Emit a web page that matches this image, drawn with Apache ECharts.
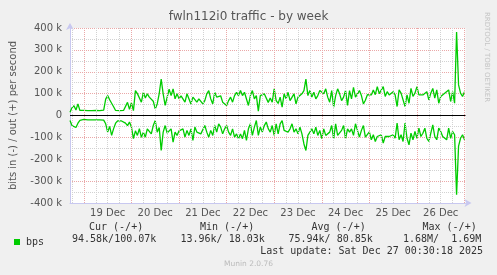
<!DOCTYPE html>
<html>
<head>
<meta charset="utf-8">
<script src="https://cdn.jsdelivr.net/npm/echarts@6/dist/echarts.min.js"></script>
<style>
html,body{margin:0;padding:0;background:#f0f0f0;}
#c{width:497px;height:275px;}
</style>
</head>
<body>
<div id="c"></div>
<script>
// hours relative to 19 Dec 00:00, one sample per hour
const startHour = -7;
// out (+) traffic, kbit/s
const outK = [
 15,35,45,25,53,23,22,23,22,22,
 23,22,22,23,22,22,23,25,75,91,
 72,80,40,23,22,22,22,23,22,60,
 28,58,22,114,100,91,61,106,80,99,
 84,91,65,30,53,100,167,99,46,53,
 120,91,122,76,99,76,90,84,61,99,
 106,53,84,91,61,76,84,53,68,99,
 114,76,53,106,84,76,90,61,68,46,
 68,84,61,91,106,91,114,91,106,99,
 46,91,114,76,91,20,91,84,99,100,
 60,80,61,122,68,55,84,38,99,76,
 106,68,61,99,53,84,76,99,114,166,
 91,114,84,106,76,91,114,122,99,122,
 84,61,114,38,91,122,99,68,84,114,
 46,114,76,129,84,99,114,91,53,70,
 95,87,94,117,95,132,100,102,132,87,
 109,94,102,109,94,41,117,102,109,41,
 94,56,124,87,102,132,94,102,94,87,
 109,71,102,124,79,117,56,87,94,102,
 94,117,64,109,56,382,140,102,87,109
];
// in (-) traffic, kbit/s (drawn below zero)
const inK = [
 23,46,50,55,35,22,20,18,18,20,
 20,20,20,20,20,20,20,21,38,76,
 50,91,60,35,25,30,25,22,35,46,
 30,53,106,70,91,60,100,76,99,61,
 55,84,46,23,76,55,160,76,46,80,
 84,61,122,76,91,70,76,61,99,68,
 91,61,114,53,76,68,84,91,46,76,
 99,68,91,46,76,38,53,84,61,46,
 76,91,61,99,84,106,84,106,68,114,
 61,38,91,53,23,91,53,76,46,30,
 60,76,46,91,38,84,38,23,68,61,
 76,61,38,76,61,84,53,84,130,160,
 91,84,61,84,53,91,68,106,61,91,
 99,76,46,106,38,91,99,68,46,106,
 61,76,61,91,38,68,99,68,46,99,
 90,75,111,88,119,96,104,88,126,96,
 104,96,104,88,104,35,111,88,119,35,
 104,134,81,111,73,104,58,96,81,58,
 104,119,81,43,96,111,58,73,96,88,
 111,58,104,73,88,362,140,104,88,111
];
const dayLabels = ['19 Dec','20 Dec','21 Dec','22 Dec','23 Dec','24 Dec','25 Dec','26 Dec'];
const statHeaders = ['Cur (-/+)','Min (-/+)','Avg (-/+)','Max (-/+)'];
const statValues = ['94.58k/100.07k','13.96k/ 18.03k','75.94k/ 80.85k','1.68M/  1.69M'];
const seriesName = 'bps';
const titleText = 'fwln112i0 traffic - by week';
const yAxisName = 'bits in (-) / out (+) per second';
const lastUpdate = 'Last update: Sat Dec 27 00:30:18 2025';
const footer = 'Munin 2.0.76';
const sideText = 'RRDTOOL / TOBI OETIKER';

const hours = outK.map((_, i) => startHour + i);
const outData = hours.map((h, i) => [h, outK[i] * 1000]);
const inData = hours.map((h, i) => [h, -inK[i] * 1000]);
const labelHours = dayLabels.map((_, i) => 12 + 24 * i);

const RED = '#eaa8a8', GRAY = '#d2d2d2', AXIS = '#c8c8f0';
const vLines = [];
for (let h = -6; h <= 192; h += 6) {
  vLines.push({xAxis: h, lineStyle: {color: h % 24 === 0 ? RED : GRAY, type: [1, 1], width: 1}});
}
vLines.push({yAxis: 0, lineStyle: {color: '#000', type: 'solid', width: 1}});

const FONT = 'DejaVu Sans';
const MONO = 'DejaVu Sans Mono';
const graphics = [];
const headerX = [89, 200, 311.5, 422.5];
const valueX = [72, 180.5, 288.5, 403];
statHeaders.forEach((t, i) => graphics.push({type:'text', left: headerX[i], top: 222, style:{text:t, font:'10px ' + MONO, fill:'#333'}}));
statValues.forEach((t, i) => graphics.push({type:'text', left: valueX[i], top: 234.5, style:{text:t, font:'10px ' + MONO, fill:'#333'}}));
graphics.push({type:'text', right: 14, top: 246, style:{text:lastUpdate, font:'10px ' + MONO, fill:'#333'}});
graphics.push({type:'text', left: 'center', top: 260, style:{text:footer, font:'7.5px ' + FONT, fill:'#bbb'}});
graphics.push({type:'text', x: 487, y: 57, rotation: -Math.PI/2, style:{text:sideText, font:'7px ' + FONT, fill:'#c4c4c4', align:'center', verticalAlign:'middle'}});

const chart = echarts.init(document.getElementById('c'), null, {renderer:'canvas'});
chart.setOption({
  animation: false,
  backgroundColor: '#f0f0f0',
  textStyle: {fontFamily: FONT},
  title: {text: titleText, left: 'center', top: 11, padding: 0,
    textStyle: {fontFamily: FONT, fontSize: 12, fontWeight: 'normal', color: '#555'}},
  legend: {data: [{name: seriesName, icon: 'rect'}], left: 14, top: 237, itemWidth: 6, itemHeight: 6,
    padding: 0, itemGap: 5,
    textStyle: {fontFamily: MONO, fontSize: 10, color: '#333', padding: [0,0,0,1]}},
  grid: {left: 66.5, right: 31.5, top: 28, bottom: 72, show: true, backgroundColor: '#fff', borderWidth: 0},
  xAxis: {
    type: 'value', min: -7, max: 192.5,
    axisLine: {show: true, onZero: false, lineStyle: {color: AXIS}, symbol: ['none','arrow'], symbolSize: [6, 7], symbolOffset: [0, 6]},
    axisTick: {show: false},
    splitLine: {show: false},
    axisLabel: {customValues: labelHours, formatter: v => dayLabels[Math.round((v - 12) / 24)] || '',
      color: '#555', fontSize: 10, fontFamily: FONT, margin: 5}
  },
  yAxis: {
    type: 'value', min: -400000, max: 400000, interval: 100000,
    name: yAxisName, nameLocation: 'middle', nameGap: 52, nameRotate: 90,
    nameTextStyle: {color: '#555', fontSize: 10, fontFamily: FONT},
    axisLine: {show: true, onZero: false, lineStyle: {color: AXIS}, symbol: ['none','arrow'], symbolSize: [6, 7], symbolOffset: [0, 5]},
    axisTick: {show: false},
    axisLabel: {formatter: v => v === 0 ? '0' : (v / 1000) + ' k', color: '#555', fontSize: 10, fontFamily: FONT, margin: 8},
    splitLine: {show: true, lineStyle: {color: RED, type: [1, 1]}},
    minorTick: {show: false, splitNumber: 2},
    minorSplitLine: {show: true, lineStyle: {color: GRAY, type: [1, 1]}}
  },
  series: [
    {type: 'line', name: '_grid', data: [], z: 1, silent: true,
      markLine: {silent: true, symbol: ['none','none'], label: {show: false}, animation: false, data: vLines}},
    {type: 'line', name: seriesName, data: outData, showSymbol: false, z: 3,
      lineStyle: {color: '#00cc00', width: 1.3}, itemStyle: {color: '#00cc00'}},
    {type: 'line', name: seriesName, data: inData, showSymbol: false, z: 3,
      lineStyle: {color: '#00cc00', width: 1.3}, itemStyle: {color: '#00cc00'}}
  ],
  graphic: graphics
});
</script>
</body>
</html>
